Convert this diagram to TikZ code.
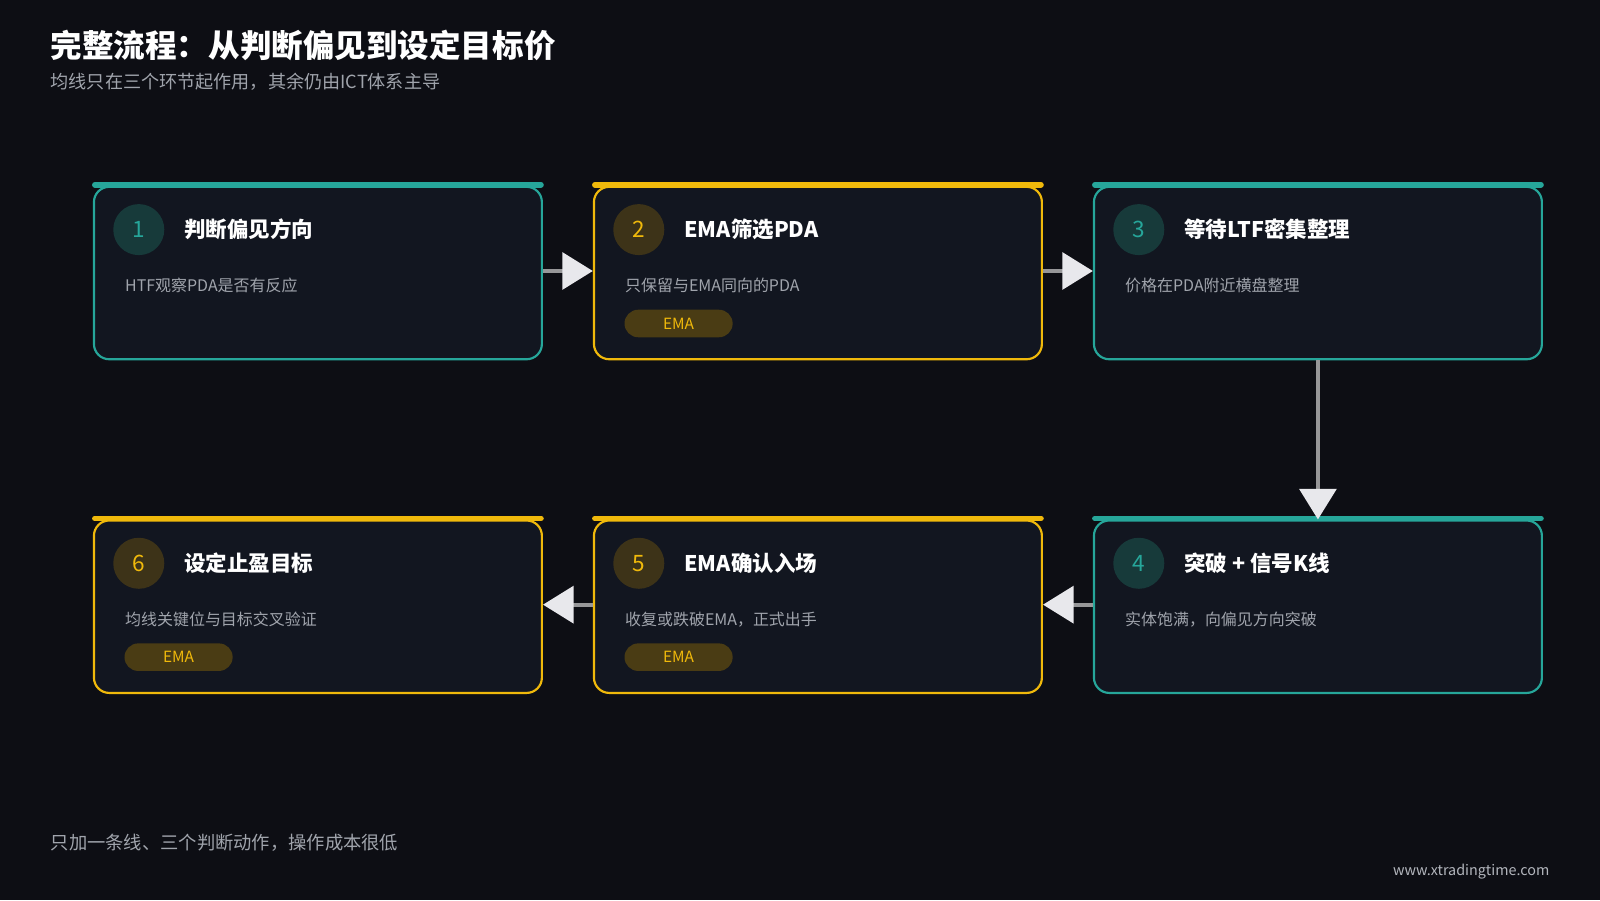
\documentclass[tikz,border=0pt]{standalone}
\usepackage{fontspec}
\setmainfont{Noto Sans CJK SC}
\usetikzlibrary{arrows.meta,positioning}
\definecolor{bgc}{HTML}{0D0E14}
\definecolor{cardc}{HTML}{121620}
\definecolor{teal}{HTML}{26A69A}
\definecolor{gold}{HTML}{F0B90B}
\definecolor{tealdk}{HTML}{173A3A}
\definecolor{golddk}{HTML}{3D3318}
\definecolor{pillc}{HTML}{4A3C14}
\definecolor{greytxt}{HTML}{A0A4AC}
\definecolor{arrowc}{HTML}{E8E8EC}
\tikzset{
  card/.style={draw=#1, line width=0.6pt, fill=cardc, rounded corners=0.15cm,
    minimum width=4.39cm, minimum height=1.69cm, inner sep=0pt},
  topbar/.style={draw=#1, line width=1.6pt, line cap=round},
  num/.style={circle, fill=#1dk, text=#1, minimum size=0.5cm, inner sep=0pt, font=\fontsize{6.3}{7}\selectfont},
  ttl/.style={anchor=west, inner sep=0pt, text=white, font=\fontsize{6.0}{7}\selectfont\bfseries},
  sub/.style={anchor=west, inner sep=0pt, text=greytxt, font=\fontsize{4.45}{5}\selectfont},
  pill/.style={rounded corners=0.135cm, fill=pillc, text=gold, minimum width=1.06cm,
    minimum height=0.27cm, inner sep=0pt, font=\fontsize{4.3}{5}\selectfont},
  flow/.style={draw=arrowc!65!black, line width=1.2pt,
    -{Triangle[width=0.36cm,length=0.3cm,color=arrowc,fill=arrowc]}},
}
% one card: name, colour, x, y (top-left), number, title, text
\newcommand\stepcard[7]{%
  \node[card=#2, anchor=north west] (#1) at (#3,#4) {};
  \draw[topbar=#2] ([xshift=0.02cm,yshift=0.01cm]#1.north west) -- ([xshift=-0.02cm,yshift=0.01cm]#1.north east);
  \node[num=#2] (#1n) at ([xshift=0.45cm,yshift=-0.43cm]#1.north west) {#5};
  \node[ttl] (#1t) at ([xshift=0.89cm,yshift=-0.43cm]#1.north west) {#6};
  \node[sub] (#1s) at ([xshift=0.31cm,yshift=-0.98cm]#1.north west) {#7};
}
\begin{document}
\begin{tikzpicture}
\fill[bgc] (0,0) rectangle (15.68,-8.82);
\useasboundingbox (0,0) rectangle (15.68,-8.82);

\node[anchor=west, inner sep=0pt, text=white, font=\fontsize{8.8}{10}\selectfont\bfseries] (head) at (0.49,-0.45) {完整流程：从判断偏见到设定目标价};
\node[anchor=west, inner sep=0pt, text=greytxt, font=\fontsize{5.05}{6}\selectfont] (subhead) at (0.49,-0.80) {均线只在三个环节起作用，其余仍由ICT体系主导};

\stepcard{s1}{teal}{0.91}{-1.82}{1}{判断偏见方向}{HTF观察PDA是否有反应}
\stepcard{s2}{gold}{5.81}{-1.82}{2}{EMA筛选PDA}{只保留与EMA同向的PDA}
\stepcard{s3}{teal}{10.71}{-1.82}{3}{等待LTF密集整理}{价格在PDA附近横盘整理}
\stepcard{s4}{teal}{10.71}{-5.09}{4}{突破 + 信号K线}{实体饱满，向偏见方向突破}
\stepcard{s5}{gold}{5.81}{-5.09}{5}{EMA确认入场}{收复或跌破EMA，正式出手}
\stepcard{s6}{gold}{0.91}{-5.09}{6}{设定止盈目标}{均线关键位与目标交叉验证}

\node[pill] (p2) at ([xshift=0.84cm,yshift=-1.35cm]s2.north west) {EMA};
\node[pill] (p5) at ([xshift=0.84cm,yshift=-1.35cm]s5.north west) {EMA};
\node[pill] (p6) at ([xshift=0.84cm,yshift=-1.35cm]s6.north west) {EMA};

\draw[flow] ([yshift=0.02cm]s1.east) -- ([yshift=0.02cm]s2.west);
\draw[flow] ([yshift=0.02cm]s2.east) -- ([yshift=0.02cm]s3.west);
\draw[flow] (s3.south) -- (s4.north);
\draw[flow] ([yshift=0.02cm]s4.west) -- ([yshift=0.02cm]s5.east);
\draw[flow] ([yshift=0.02cm]s5.west) -- ([yshift=0.02cm]s6.east);

\node[anchor=west, inner sep=0pt, text=greytxt, font=\fontsize{5.1}{6}\selectfont] (foot) at (0.49,-8.26) {只加一条线、三个判断动作，操作成本很低};
\node[anchor=east, inner sep=0pt, text=greytxt!80, font=\fontsize{4}{5}\selectfont] (url) at (15.19,-8.54) {www.xtradingtime.com};
\end{tikzpicture}
\end{document}
